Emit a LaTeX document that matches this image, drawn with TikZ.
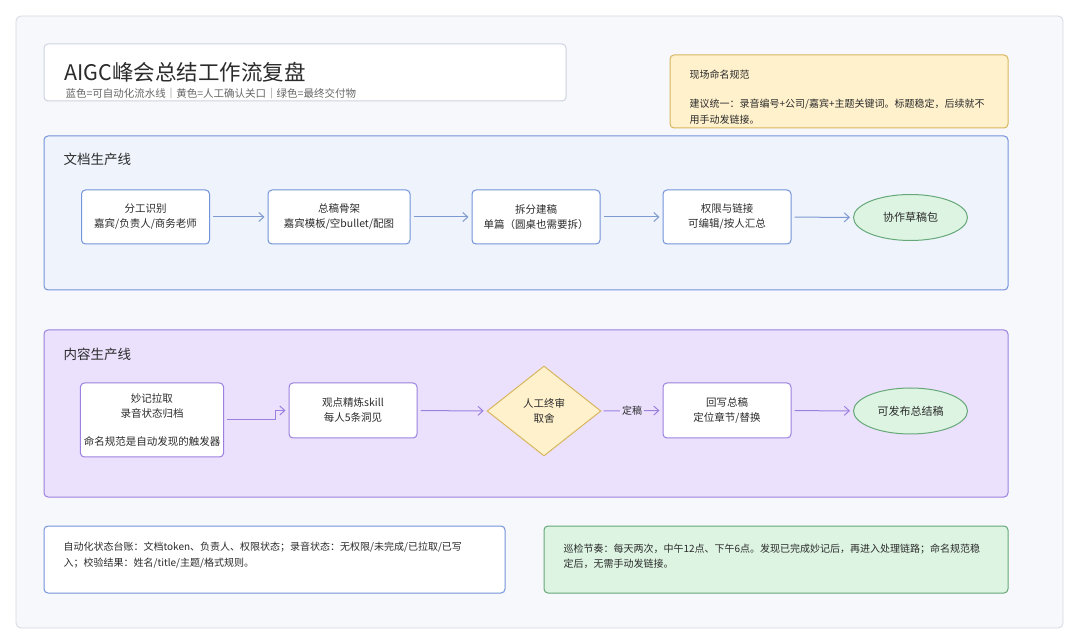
\documentclass[tikz,border=0pt]{standalone}
\usepackage{fontspec}
\setmainfont{Noto Sans CJK SC}
\usetikzlibrary{arrows.meta,shapes.geometric}
\definecolor{pagebg}{HTML}{F6F8FB}
\definecolor{pageline}{HTML}{D3D9E3}
\definecolor{txt}{HTML}{2B2B2B}
\definecolor{subtxt}{HTML}{666666}
\definecolor{bluefill}{HTML}{EEF3FC}
\definecolor{blueline}{HTML}{7393DA}
\definecolor{bluearrow}{HTML}{7F9AD0}
\definecolor{purfill}{HTML}{EBE1FD}
\definecolor{purline}{HTML}{9B80DE}
\definecolor{yelfill}{HTML}{FFF1CC}
\definecolor{yelline}{HTML}{D8B65E}
\definecolor{grnfill}{HTML}{DDF4E2}
\definecolor{grnline}{HTML}{66A878}
\definecolor{titleline}{HTML}{CDD4E0}
\tikzset{
  every node/.style={text=txt},
  lane/.style={draw, rounded corners=4pt, line width=1pt, inner sep=0pt},
  bluebox/.style={draw=blueline, fill=white, rounded corners=4pt, line width=1pt, align=center,
    minimum height=54pt, font=\fontsize{10.5}{15}\selectfont},
  purbox/.style={draw=purline, fill=white, rounded corners=4pt, line width=1pt, align=center,
    font=\fontsize{10.5}{15}\selectfont},
  goal/.style={ellipse, draw=grnline, fill=grnfill, line width=1pt, minimum width=114pt,
    minimum height=46pt, font=\fontsize{11}{15}\selectfont},
  gate/.style={diamond, draw=yelline, fill=yelfill, line width=1pt, minimum width=114pt,
    minimum height=90pt, inner sep=0pt, align=center, font=\fontsize{10.5}{15}\selectfont},
  barrow/.style={-{Straight Barb[length=5pt,width=9pt]}, draw=bluearrow, line width=1pt,
    shorten <=3pt, shorten >=3pt},
  parrow/.style={-{Straight Barb[length=5pt,width=9pt]}, draw=purline, line width=1pt,
    shorten <=3pt, shorten >=3pt},
  lanetitle/.style={anchor=base west, font=\fontsize{13.5}{16}\selectfont},
  note/.style={anchor=base west, font=\fontsize{10}{15.5}\selectfont},
}
\begin{document}
\begin{tikzpicture}[x=1pt,y=-1pt]
\useasboundingbox (0,0) rectangle (1080,644);
\fill[white] (0,0) rectangle (1080,644);
\node[draw=pageline, fill=pagebg, rounded corners=5pt, line width=0.8pt, minimum width=1047pt, minimum height=612pt, inner sep=0pt] (frame) at (539.5,322) {};

% title box
\node[draw=titleline, fill=white, rounded corners=4pt, line width=1pt, minimum width=522pt, minimum height=57pt, inner sep=0pt] (titlebox) at (305,72.5) {};
\node[anchor=base west, font=\fontsize{21.5}{24}\selectfont, text=txt] (title) at (61,80.5) {AIGC峰会总结工作流复盘};
\node[anchor=base west, font=\fontsize{10.5}{12}\selectfont, text=subtxt] (subtitle) at (62,97.5) {蓝色=可自动化流水线｜黄色=人工确认关口｜绿色=最终交付物};

% naming note
\node[draw=yelline, fill=yelfill, rounded corners=4pt, line width=1pt, minimum width=338pt, minimum height=73pt, inner sep=0pt] (namebox) at (839,91.5) {};
\node[note] (nametitle) at (686,79) {现场命名规范};
\node[note] (nametext1) at (686,108) {建议统一：录音编号+公司/嘉宾+主题关键词。标题稳定，后续就不};
\node[note] (nametext2) at (686,123.5) {用手动发链接。};

% document lane
\node[lane, draw=blueline, fill=bluefill, minimum width=964pt, minimum height=154pt] (lane1) at (526,213) {};
\node[lanetitle] (lane1t) at (60,164.5) {文档生产线};
\node[bluebox, minimum width=128pt] (d1) at (145.5,217) {分工识别\\嘉宾/负责人/商务老师};
\node[bluebox, minimum width=142pt] (d2) at (339,217) {总稿骨架\\嘉宾模板/空bullet/配图};
\node[bluebox, minimum width=128pt] (d3) at (536,217) {拆分建稿\\单篇（圆桌也需要拆）};
\node[bluebox, minimum width=128pt] (d4) at (727,217) {权限与链接\\可编辑/按人汇总};
\node[goal] (d5) at (910.5,217.5) {协作草稿包};
\draw[barrow] (d1) -- (d2);
\draw[barrow] (d2) -- (d3);
\draw[barrow] (d3) -- (d4);
\draw[barrow] (d4) -- (d5);

% content lane
\node[lane, draw=purline, fill=purfill, minimum width=964pt, minimum height=167pt] (lane2) at (526,413.5) {};
\node[lanetitle] (lane2t) at (60,359.5) {内容生产线};
\node[purbox, minimum width=142pt, minimum height=74pt] (c1) at (152,420) {妙记拉取\\录音状态归档\\[13pt]命名规范是自动发现的触发器};
\node[purbox, minimum width=128pt, minimum height=55pt] (c2) at (353,410.5) {观点精炼skill\\每人5条洞见};
\node[gate] (c3) at (544,411) {人工终审\\取舍};
\node[purbox, minimum width=128pt, minimum height=55pt] (c4) at (727,410.5) {回写总稿\\定位章节/替换};
\node[goal] (c5) at (910.5,411) {可发布总结稿};
\coordinate (jog) at (275,420);
\draw[parrow] (c1.east) -- (jog) |- (c2.west);
\draw[parrow] (c2) -- (c3);
\draw[parrow, shorten <=2pt] (c3.east) -- node[fill=purfill, inner sep=2pt, font=\fontsize{10}{12}\selectfont] (lbl) {定稿} (c4.west);
\draw[parrow] (c4) -- (c5);

% bottom notes
\node[draw=blueline, fill=white, rounded corners=4pt, line width=1pt, minimum width=461pt, minimum height=67pt, inner sep=0pt] (ledger) at (274.5,559.5) {};
\node[note] (ledgert1) at (60,550) {自动化状态台账：文档token、负责人、权限状态；录音状态：无权限/未完成/已拉取/已写};
\node[note] (ledgert2) at (60,566) {入；校验结果：姓名/title/主题/格式规则。};
\node[draw=grnline, fill=grnfill, rounded corners=4pt, line width=1pt, minimum width=464pt, minimum height=67pt, inner sep=0pt] (patrol) at (776,559.5) {};
\node[note] (patrolt1) at (560,552) {巡检节奏：每天两次，中午12点、下午6点。发现已完成妙记后，再进入处理链路；命名规范稳};
\node[note] (patrolt2) at (560,567.5) {定后，无需手动发链接。};
\end{tikzpicture}
\end{document}
